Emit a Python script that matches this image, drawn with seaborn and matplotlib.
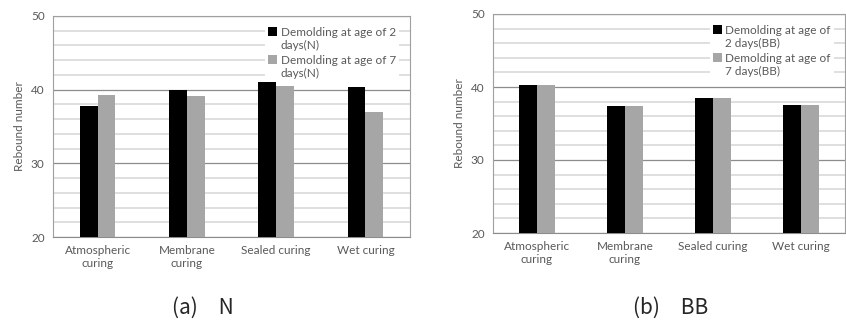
import matplotlib
matplotlib.use("Agg")
import matplotlib.pyplot as plt
import seaborn as sns
import pandas as pd
from matplotlib.ticker import MultipleLocator

sns.set_style("white")
plt.rcParams["font.family"] = ["Lato", "DejaVu Sans"]

# data
categories = ["Atmospheric\ncuring", "Membrane\ncuring", "Sealed curing", "Wet curing"]
n_2days = [37.8, 39.9, 41.1, 40.3]
n_7days = [39.3, 39.2, 40.5, 37.0]
bb_2days = [40.3, 37.4, 38.5, 37.6]
bb_7days = [40.3, 37.4, 38.5, 37.6]
labels_n = ["Demolding at age of 2\ndays(N)", "Demolding at age of 7\ndays(N)"]
labels_bb = ["Demolding at age of\n2 days(BB)", "Demolding at age of\n7 days(BB)"]
captions = ["(a)\u3000N", "(b)\u3000BB"]

fig = plt.figure(figsize=(8.46, 3.24), dpi=100)
W, H = 846, 324
ax1 = fig.add_axes([53 / W, (H - 237) / H, (410 - 53) / W, (237 - 16) / H])
ax2 = fig.add_axes([493 / W, (H - 233) / H, (845 - 493) / W, (233 - 14) / H])


def draw(ax, s1, s2, labels):
    df = pd.DataFrame({
        "cat": categories * 2,
        "val": s1 + s2,
        "series": [labels[0]] * 4 + [labels[1]] * 4,
    })
    sns.barplot(data=df, x="cat", y="val", hue="series", ax=ax,
                palette=["#000000", "#a6a6a6"], width=0.4, saturation=1,
                edgecolor="none", zorder=3)
    ax.set_ylim(20, 50)
    ax.yaxis.set_major_locator(MultipleLocator(10))
    ax.yaxis.set_minor_locator(MultipleLocator(2))
    ax.grid(which="major", axis="y", color="#8c8c8c", lw=0.9, zorder=0)
    ax.grid(which="minor", axis="y", color="#d9d9d9", lw=1.2, zorder=0)
    ax.set_axisbelow(True)
    for sp in ax.spines.values():
        sp.set_color("#a0a0a0")
        sp.set_linewidth(0.8)
    ax.spines["bottom"].set_color("#8c8c8c")
    ax.tick_params(axis="both", which="both", length=0, labelsize=8.5,
                   labelcolor="#595959", pad=6)
    ax.set_xlabel("")
    ax.set_ylabel("Rebound number", fontsize=8.5, color="#595959")
    leg = ax.legend(loc="upper right", bbox_to_anchor=(0.985, 0.99), fontsize=8.5,
                    frameon=True, facecolor="white", edgecolor="none", framealpha=1,
                    handlelength=0.8, handleheight=0.8, handletextpad=0.3,
                    labelspacing=0.3, borderpad=0.25, fancybox=False)
    for t in leg.get_texts():
        t.set_color("#595959")
        t.set_linespacing(1.25)
    # put the square next to the first line of each label
    for col in leg._legend_handle_box.get_children():
        for row in col.get_children():
            row.align = "top"
    leg.set_zorder(2.5)


draw(ax1, n_2days, n_7days, labels_n)
draw(ax2, bb_2days, bb_7days, labels_bb)

for x, txt in zip([203, 671], captions):
    fig.text(x / W, 1 - 308 / H, txt, fontsize=15, ha="center", va="center",
             family=["Noto Sans CJK JP", "DejaVu Sans"])

fig.savefig("out.png", dpi=100)
